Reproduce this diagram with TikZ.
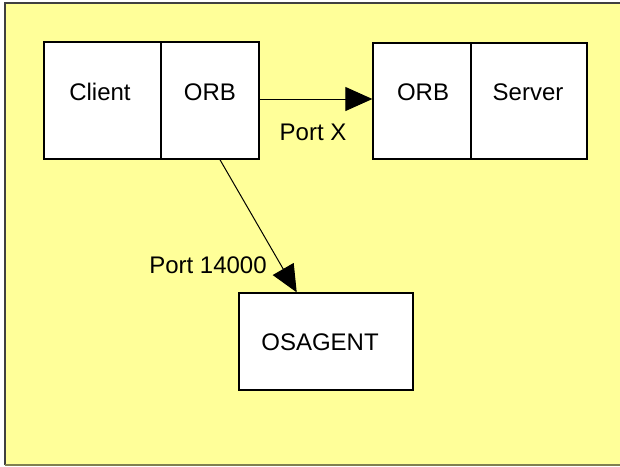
\documentclass[tikz,border=0pt]{standalone}
\usepackage{fontspec}
\setmainfont{Liberation Sans}
\usetikzlibrary{arrows.meta,calc}
\definecolor{bgyellow}{RGB}{255,255,153}
\definecolor{framedark}{RGB}{64,64,64}
\definecolor{frameolive}{RGB}{128,128,80}
\tikzset{
  cell/.style={draw=black, fill=white, line width=1.3pt, inner sep=0pt, rectangle},
  txt/.style={inner sep=0pt, font=\fontsize{24}{28}\selectfont},
  conn/.style={line width=1pt, -{Triangle[length=27pt,width=24pt]}}
}
\begin{document}
\begin{tikzpicture}[x=1pt,y=1pt]
\useasboundingbox (0,0) rectangle (620,-466);
% background
\fill[bgyellow] (5,-3) rectangle (620,-465);
\draw[framedark, line width=2pt] (5,-465) -- (5,-3) -- (620,-3);
\draw[frameolive, line width=2pt] (5,-465) -- (620,-465);
% boxes
\node[cell, minimum width=117pt, minimum height=117pt] (client) at (102.5,-100.5) {};
\node[cell, minimum width=98pt, minimum height=117pt] (orbA) at (210,-100.5) {};
\node[cell, minimum width=98pt, minimum height=116pt] (orbB) at (422,-101) {};
\node[cell, minimum width=116pt, minimum height=116pt] (server) at (529,-101) {};
\node[cell, minimum width=174pt, minimum height=97pt] (osagent) at (326,-341.5) {};
% texts
\node[txt] (tclient) at (100,-92) {Client};
\node[txt] (torbA) at (210,-92) {ORB};
\node[txt] (torbB) at (423,-92) {ORB};
\node[txt] (tserver) at (528,-92) {Server};
\node[txt] (tosagent) at (320,-342) {OSAGENT};
% connectors
\draw[conn] ($(orbA.east)+(0,1.5)$) -- ($(orbA.east -| orbB.west)+(0,1.5)$);
\draw[conn] ($(orbA.south west)!0.6!(orbA.south east)$) -- ($(osagent.north west)!0.333!(osagent.north east)$);
% labels
\node[txt] (lportx) at (313,-132) {Port X};
\node[txt] (lport14) at (208,-265) {Port 14000};
\end{tikzpicture}
\end{document}
